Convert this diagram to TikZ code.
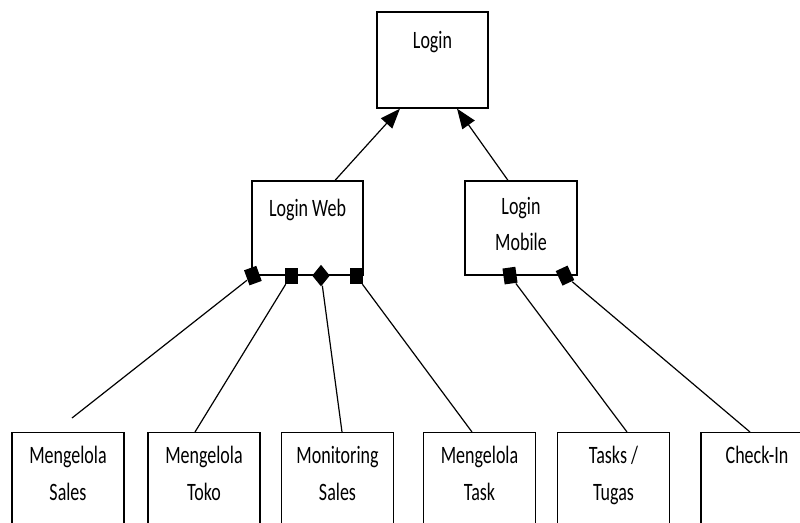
\documentclass[tikz,border=0pt]{standalone}
\usepackage{fontspec}
\setmainfont{Carlito}[FakeStretch=0.72]
\usetikzlibrary{arrows.meta,positioning,shapes.geometric}
\tikzset{
  box/.style={draw, line width=1.2pt, minimum width=112pt, inner sep=0pt},
  lbl/.style={align=center, inner sep=0pt, font=\fontsize{25pt}{36.5pt}\selectfont},
  sqmark/.style={fill, inner sep=0pt, minimum width=13pt, minimum height=16pt},
  dmmark/.style={diamond, fill, inner sep=0pt, minimum width=18pt, minimum height=22pt},
  tri/.style={-{Triangle[length=20pt,width=15pt]}}
}
\begin{document}
\begin{tikzpicture}[x=1pt,y=-1pt,line width=1.2pt]
  \useasboundingbox (0,0) rectangle (800,522);
  \clip (0,0) rectangle (800,522);
  \node[box, minimum width=111pt, minimum height=96pt] (login) at (432.5,60) {};
  \node[box, minimum width=111pt, minimum height=94pt] (web) at (307.5,228) {};
  \node[box, minimum height=94pt] (mobile) at (521,228) {};
  \node[box, minimum height=150pt, anchor=north] (sales) at (68,432) {};
  \node[box, minimum height=150pt, anchor=north] (toko) at (204,432) {};
  \node[box, minimum height=150pt, anchor=north] (monitor) at (337.5,432) {};
  \node[box, minimum height=150pt, anchor=north] (task) at (479.5,432) {};
  \node[box, minimum height=150pt, anchor=north] (tugas) at (613.5,432) {};
  \node[box, minimum height=150pt, anchor=north] (checkin) at (757,432) {};
  \node[lbl, below=19pt of login.north] (loginL) {Login};
  \node[lbl, below=18pt of web.north] (webL) {Login Web};
  \node[lbl, below=16pt of mobile.north] (mobileL) {Login\\Mobile};
  \node[lbl, below=14pt of sales.north] (salesL) {Mengelola\\Sales};
  \node[lbl, below=14pt of toko.north] (tokoL) {Mengelola\\Toko};
  \node[lbl, below=14pt of monitor.north] (monitorL) {Monitoring\\Sales};
  \node[lbl, below=14pt of task.north] (taskL) {Mengelola\\Task};
  \node[lbl, below=14pt of tugas.north] (tugasL) {Tasks /\\Tugas};
  \node[lbl, below=14pt of checkin.north] (checkinL) {Check-In};
  \node[sqmark, rotate=20] (w1) at ([xshift=1.5pt]web.south west) {};
  \node[sqmark] (w2) at ([xshift=-16.5pt]web.south) {};
  \node[dmmark] (w3) at ([xshift=13.5pt]web.south) {};
  \node[sqmark] (w4) at ([xshift=48.5pt]web.south) {};
  \node[sqmark, rotate=8] (m1) at ([xshift=-11pt]mobile.south) {};
  \node[sqmark, rotate=25] (m2) at ([xshift=44pt]mobile.south) {};
  \coordinate (salesend) at (72,418);
  \begin{scope}
    \draw[tri] ([xshift=27.5pt]web.north) to ([xshift=-32.5pt]login.south);
    \draw[tri] ([xshift=-13pt]mobile.north) to ([xshift=24.5pt]login.south);
    \draw (salesend) to (w1);
    \draw ([xshift=-9pt]toko.north) to (w2);
    \draw ([xshift=4.5pt]monitor.north) to (w3);
    \draw ([xshift=-7.5pt]task.north) to (w4);
    \draw ([xshift=13.5pt]tugas.north) to (m1);
    \draw ([xshift=-7pt]checkin.north) to (m2);
  \end{scope}
\end{tikzpicture}
\end{document}
